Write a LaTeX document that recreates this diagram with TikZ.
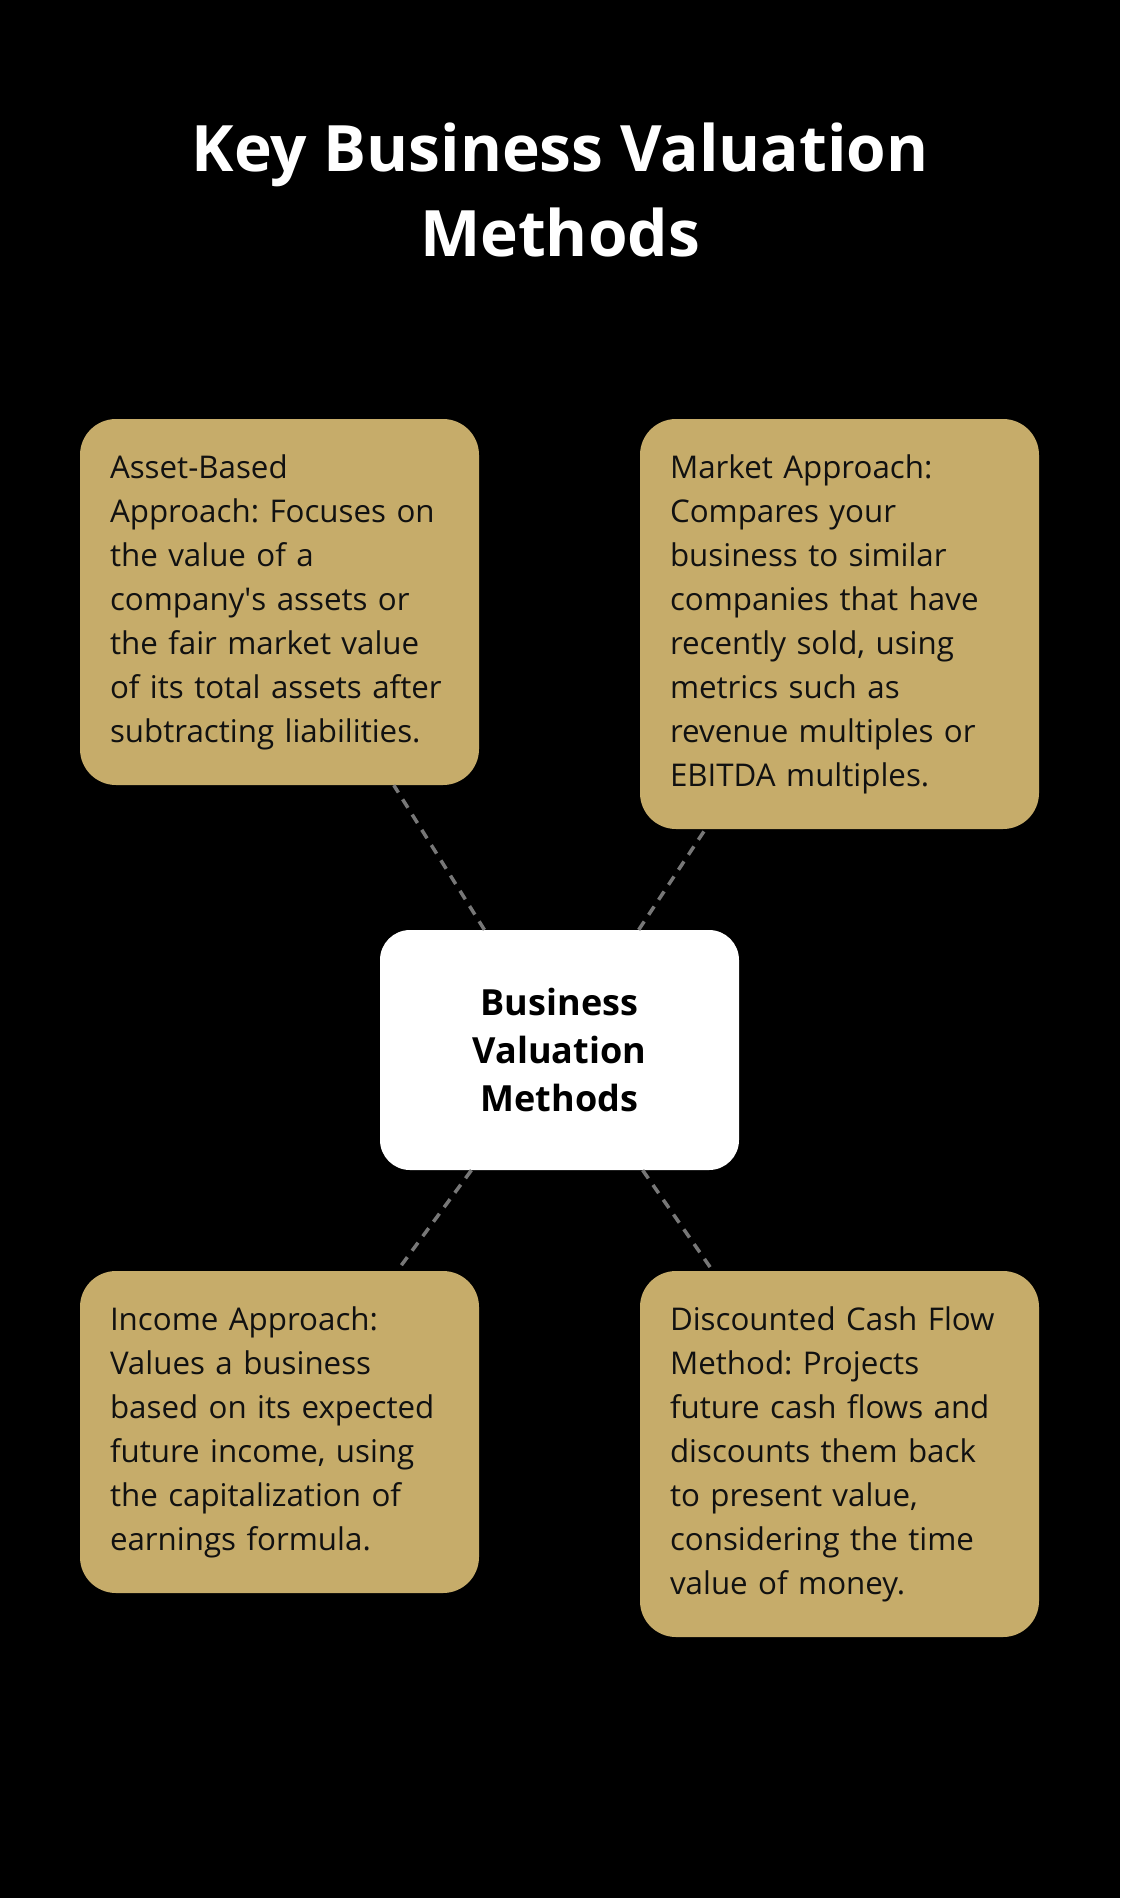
\documentclass[tikz,border=0pt]{standalone}
\usepackage{fontspec}
\setmainfont{Open Sans}
\usetikzlibrary{positioning}
\frenchspacing

\definecolor{goldbox}{HTML}{C6AC6A}
\definecolor{dashgray}{HTML}{777777}
\definecolor{inkdark}{HTML}{111111}

\begin{document}
\begin{tikzpicture}[
        x=1pt, y=-1pt,
        method/.style={draw=none, fill=goldbox, rounded corners=36pt, text=inkdark,
            minimum width=399pt, text width=339pt, inner xsep=30pt, align=left,
            font=\fontsize{31.3}{44}\selectfont},
        hub/.style={draw=none, fill=white, rounded corners=30pt, text=black,
            minimum width=359pt, minimum height=240pt, align=center,
            font=\bfseries\fontsize{36}{48}\selectfont},
        link/.style={dashgray, line width=3.5pt, dash pattern=on 10pt off 8pt}
    ]
        % Background
        \fill[black] (0,0) rectangle (1120,1898);
        \useasboundingbox (0,0) rectangle (1120,1898);

        % Title
        \node[text=white, align=center, font=\bfseries\fontsize{64}{85}\selectfont] (title) at (560,190)
            {Key Business Valuation\\Methods};

        % Center
        \node[hub] (core) at (559.5,1050) {Business\\Valuation\\Methods};

        % Methods
        \node[method, minimum height=366pt] (asset) at (279.5,602)
            {Asset-Based\\Approach: Focuses on\\the value of a\\company\textquotesingle s assets or\\the fair market value\\of its total assets after\\subtracting liabilities.};
        \node[method, minimum height=410pt] (market) at (839.5,624)
            {Market Approach:\\Compares your\\business to similar\\companies that have\\recently sold, using\\metrics such as\\revenue multiples or\\EBITDA multiples.};
        \node[method, minimum height=322pt] (income) at (279.5,1432)
            {Income Approach:\\Values a business\\based on its expected\\future income, using\\the capitalization of\\earnings formula.};
        \node[method, minimum height=366pt] (dcf) at (839.5,1454)
            {Discounted Cash Flow\\Method: Projects\\future cash flows and\\discounts them back\\to present value,\\considering the time\\value of money.};

        % Links
        \draw[link] (core) -- (asset);
        \draw[link] (core) -- (market);
        \draw[link] (core) -- (income);
        \draw[link] (core) -- (dcf);

    \end{tikzpicture}
\end{document}
